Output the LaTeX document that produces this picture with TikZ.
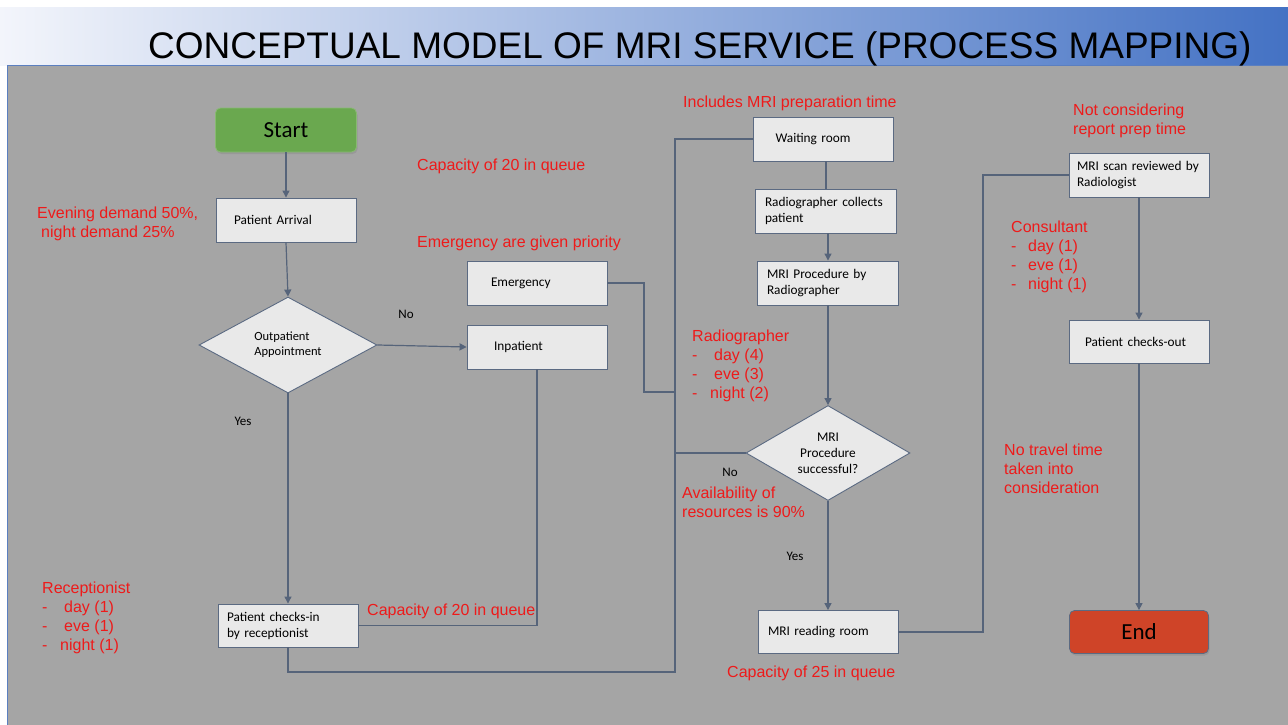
\documentclass[tikz,border=0pt]{standalone}
\usepackage{fontspec}
\setmainfont{Liberation Sans}
\newfontfamily\boxfont{Carlito}
\usetikzlibrary{shapes.geometric,arrows.meta,shadows}
\definecolor{bggray}{HTML}{A5A5A5}
\definecolor{boxfill}{HTML}{E9E9E9}
\definecolor{boxline}{HTML}{5B6A82}
\definecolor{linec}{HTML}{56647A}
\definecolor{redc}{HTML}{EE1A1A}
\definecolor{startg}{HTML}{6AA84F}
\definecolor{endr}{HTML}{CF4428}
\definecolor{bandl}{HTML}{F3F5FB}
\definecolor{bandm}{HTML}{AEC2E8}
\definecolor{bandr}{HTML}{4472C4}
\definecolor{edgeb}{HTML}{5B7FC0}
\newcommand\dashitem[2]{\makebox[#1][l]{-}#2}
\begin{document}
\begin{tikzpicture}[x=1pt,y=-1pt,
  pbox/.style={draw=boxline, fill=boxfill, line width=0.9pt, minimum height=44pt,
    font=\boxfont\fontsize{13.3}{16}\selectfont, align=left, inner ysep=0pt},
  term/.style={draw=boxline, line width=0.8pt, rounded corners=5pt, minimum width=141pt,
    minimum height=44pt, font=\boxfont\fontsize{23}{26}\selectfont,
    drop shadow={opacity=0.35, shadow xshift=1pt, shadow yshift=-2pt}},
  dia/.style={diamond, draw=boxline, fill=boxfill, line width=0.9pt, inner sep=0pt,
    aspect=1.8, align=left},
  redtxt/.style={text=redc, font=\fontsize{16}{19}\selectfont, inner sep=0pt, align=left, anchor=west},
  lbl/.style={font=\boxfont\fontsize{13}{15}\selectfont, inner sep=0pt},
  conn/.style={draw=linec, line width=1.2pt},
  arr/.style={conn, -{Triangle[length=7pt,width=7pt]}}]

% background
\useasboundingbox (0,0) rectangle (1288,725);
\fill[white] (0,0) rectangle (1288,725);
\shade[left color=bandl, middle color=bandm, right color=bandr] (0,8) rectangle (1288,66);
\filldraw[fill=bggray, draw=edgeb, line width=1pt] (7,66) rectangle (1290,727);

\node[anchor=base west, inner sep=0pt, font=\fontsize{37}{40}\selectfont] (title) at (148,59)
  {CONCEPTUAL MODEL OF MRI SERVICE (PROCESS MAPPING)};

% nodes
\node[term, fill=startg, draw=startg!80!white] (start) at (286,130) {Start};
\node[pbox, inner xsep=18pt, text width=104pt] (arrival) at (286,220) {Patient Arrival};
\node[dia, minimum width=178pt, minimum height=96pt, font=\boxfont\fontsize{12.5}{15}\selectfont] (outp) at (288,345) {Outpatient\\Appointment};
\node[pbox, inner xsep=24pt, text width=92pt] (emerg) at (537,283) {Emergency};
\node[pbox, inner xsep=27pt, text width=86pt] (inpat) at (537,347) {Inpatient};
\node[pbox, inner xsep=9pt, text width=122pt, minimum height=43pt] (checkin) at (288,625.5) {Patient checks-in\\by receptionist};
\node[pbox, inner xsep=22pt, text width=96pt] (waiting) at (823.5,139) {Waiting room};
\node[pbox, inner xsep=10pt, text width=121pt] (collect) at (825.5,211) {Radiographer collects\\patient};
\node[pbox, inner xsep=10pt, text width=121pt] (mriproc) at (827.5,283) {MRI Procedure by\\Radiographer};
\node[dia, minimum width=164pt, minimum height=95pt, align=center, font=\boxfont\fontsize{13.3}{16}\selectfont] (mridia) at (828,453) {MRI\\Procedure\\successful?};
\node[pbox, inner xsep=10pt, text width=120pt, minimum height=43pt] (reading) at (828,632) {MRI reading room};
\node[pbox, inner xsep=8pt, text width=124pt] (review) at (1139,175) {MRI scan reviewed by\\Radiologist};
\node[pbox, inner xsep=16pt, text width=108pt, minimum height=43pt] (checkout) at (1139,341.5) {Patient checks-out};
\node[term, fill=endr, minimum width=139pt, minimum height=43pt] (end) at (1139,632) {End};

% merge points
\coordinate (mbot) at (675,672);
\coordinate (mtop) at (675,139);
\coordinate (ejoin) at (675,392);
\coordinate (rturn) at (983,175);
\coordinate (wx) at (826,0);
\coordinate (px) at (828,0);

% connectors
\draw[arr] (start) -- (arrival);
\draw[arr] (arrival.south) -- (outp.north);
\draw[arr] (outp.east) -- (inpat.west);
\draw[arr] (outp.south) -- (checkin.north);
\draw[conn] (inpat.south) |- (checkin.east);
\draw[conn] (checkin.south) |- (mbot) -- (mtop) -- (waiting.west);
\draw[conn] (emerg.east) -- (644,283) |- (ejoin);
\draw[conn] (mridia.west) -- (mridia.west -| mtop);
\draw[conn] (waiting.south -| wx) -- (collect.north -| wx);
\draw[arr] (collect.south -| px) -- (mriproc.north -| px);
\draw[arr] (mriproc.south -| px) -- (mridia.north);
\draw[arr] (mridia.south) -- (reading.north);
\draw[conn] (reading.east) -| (rturn) -- (review.west);
\draw[arr] (review.south) -- (checkout.north);
\draw[arr] (checkout.south) -- (end.north);

% black labels
\node[lbl] (no1) at (406,314) {No};
\node[lbl] (yes1) at (243,421) {Yes};
\node[lbl] (no2) at (730,472) {No};
\node[lbl] (yes2) at (795,556) {Yes};

% red annotations
\node[redtxt] (evening) at (37,223.5) {Evening demand 50\%,\\\hspace*{4pt}night demand 25\%};
\node[redtxt] (cap1) at (417,166) {Capacity of 20 in queue};
\node[redtxt] (prio) at (417,243) {Emergency are given priority};
\node[redtxt] (prep) at (683,103) {Includes MRI preparation time};
\node[redtxt] (radio) at (692,365.5) {Radiographer\\\dashitem{22pt}{day (4)}\\\dashitem{22pt}{eve (3)}\\\dashitem{18pt}{night (2)}};
\node[redtxt] (notcons) at (1073,120.5) {Not considering\\report prep time};
\node[redtxt] (consult) at (1011,257) {Consultant\\\dashitem{17pt}{day (1)}\\\dashitem{17pt}{eve (1)}\\\dashitem{17pt}{night (1)}};
\node[redtxt] (travel) at (1004,469) {No travel time\\taken into\\consideration};
\node[redtxt] (avail) at (682,502.5) {Availability of\\resources is 90\%};
\node[redtxt] (cap25) at (727,673) {Capacity of 25 in queue};
\node[redtxt] (cap2) at (367,611) {Capacity of 20 in queue};
\node[redtxt] (recep) at (42,617.5) {Receptionist\\\dashitem{22pt}{day (1)}\\\dashitem{22pt}{eve (1)}\\\dashitem{18pt}{night (1)}};
\end{tikzpicture}
\end{document}
